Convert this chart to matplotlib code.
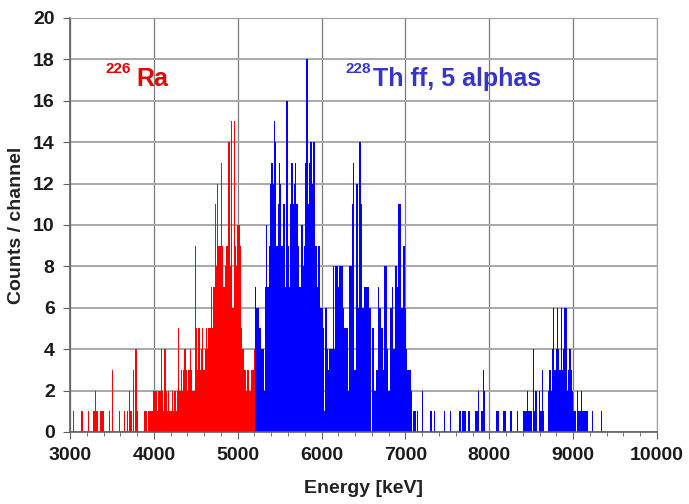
""" alpha spectrum: 226Ra source and 228Th fission fragment / 5 alphas """
import numpy as np
import matplotlib
matplotlib.use("Agg")
import matplotlib.pyplot as plt  # type: ignore
from matplotlib.ticker import MultipleLocator

plt.rcParams['font.family'] = ['Liberation Sans', 'DejaVu Sans']

# channel width in keV
chan_width = 15

# 226Ra counts per channel, starting at 3000 keV
ra_start = 3000
ra_counts = [
    0, 0, 1, 0, 0, 0, 0, 0, 0, 1, 0, 0, 0, 0, 1, 0, 0, 0, 1, 1,
    2, 1, 0, 0, 1, 1, 1, 0, 0, 0, 0, 1, 0, 3, 0, 0, 0, 0, 0, 1,
    0, 0, 0, 1, 0, 1, 0, 2, 1, 0, 3, 0, 4, 1, 0, 0, 0, 0, 0, 1,
    1, 0, 1, 1, 1, 1, 2, 2, 2, 1, 2, 2, 4, 2, 1, 4, 2, 1, 2, 1,
    1, 2, 1, 2, 1, 2, 5, 2, 3, 2, 3, 4, 3, 2, 3, 4, 3, 2, 2, 9,
    5, 3, 5, 3, 4, 5, 3, 4, 5, 4, 5, 5, 7, 5, 7, 11, 8, 12, 9, 9,
    13, 9, 7, 8, 9, 9, 14, 8, 15, 6, 15, 9, 8, 10, 10, 9, 5, 4, 3, 3,
    2, 3, 2, 2, 3, 3, 4,
]

# 228Th counts per channel, starting right after the Ra part
th_start = 5205
th_counts = [
    7, 6, 6, 5, 5, 4, 4, 2, 7, 10, 7, 9, 12, 13, 12, 15, 14, 9, 11, 13,
    12, 9, 11, 11, 7, 16, 9, 7, 11, 13, 11, 12, 13, 11, 9, 7, 7, 10, 8, 9,
    13, 18, 11, 13, 14, 12, 14, 14, 9, 7, 9, 9, 6, 6, 5, 1, 6, 4, 3, 4,
    4, 4, 8, 4, 8, 8, 7, 8, 8, 8, 6, 5, 5, 5, 2, 8, 8, 11, 13, 3,
    12, 12, 6, 14, 11, 6, 6, 7, 7, 7, 7, 6, 0, 5, 5, 2, 3, 3, 7, 6,
    5, 5, 3, 8, 8, 4, 2, 6, 6, 7, 4, 8, 8, 7, 11, 11, 6, 6, 9, 6,
    4, 3, 3, 3, 2, 0, 1, 1, 0, 1, 0, 0, 0, 2, 0, 0, 0, 0, 0, 1,
    1, 0, 1, 0, 0, 0, 0, 0, 0, 0, 1, 0, 0, 0, 0, 1, 0, 0, 0, 0,
    0, 0, 1, 1, 0, 1, 1, 1, 0, 1, 1, 0, 0, 0, 0, 1, 1, 2, 0, 0,
    1, 3, 2, 0, 0, 0, 0, 0, 0, 0, 0, 0, 1, 1, 0, 0, 0, 1, 1, 1,
    0, 0, 0, 1, 0, 0, 0, 0, 1, 0, 0, 0, 0, 1, 1, 1, 2, 1, 1, 1,
    0, 4, 1, 2, 0, 0, 2, 1, 3, 1, 0, 0, 0, 2, 3, 2, 4, 6, 3, 4,
    6, 4, 3, 6, 3, 4, 6, 6, 2, 3, 4, 3, 2, 1, 1, 0, 2, 1, 1, 2,
    1, 1, 1, 1, 1, 0, 0, 0, 1, 0, 0, 0, 0, 0, 0, 1, 0, 0, 0, 0,
]

ra_edges = ra_start + chan_width * np.arange(len(ra_counts) + 1)
th_edges = th_start + chan_width * np.arange(len(th_counts) + 1)

fig = plt.figure(figsize=(6.89, 5.04), dpi=100, facecolor="w")
ax = fig.add_axes([0.1016, 0.1429, 0.852, 0.8214])

ax.stairs(ra_counts, ra_edges, fill=True, color="#ff0000", lw=0)
ax.stairs(th_counts, th_edges, fill=True, color="#0000ff", lw=0)

ax.set_xlim(3000, 10000)
ax.set_ylim(0, 20)
ax.xaxis.set_major_locator(MultipleLocator(1000))
ax.xaxis.set_minor_locator(MultipleLocator(200))
ax.yaxis.set_major_locator(MultipleLocator(2))

ax.set_axisbelow(True)
ax.grid(axis="y", color="#a8a8a8", lw=1.4)
ax.grid(axis="x", color="#7a7a7a", lw=0.9)

for side in ["top", "right"]:
    ax.spines[side].set_color("#a0a0a0")
for side in ["left", "bottom"]:
    ax.spines[side].set_color("#606060")
    ax.spines[side].set_linewidth(1.2)

ax.tick_params(axis="both", which="major", direction="out", length=5,
               color="#606060", labelsize=14, labelcolor="#1a1a1a", pad=6)
ax.tick_params(axis="x", which="minor", direction="out", length=3, color="#606060")
for lab in ax.get_xticklabels() + ax.get_yticklabels():
    lab.set_fontweight("bold")

ax.set_xlabel("Energy [keV]", fontsize=14, fontweight="bold", color="#222222")
ax.set_ylabel("Counts / channel", fontsize=14, fontweight="bold", color="#222222")
ax.xaxis.set_label_coords(0.5, -0.115)
ax.yaxis.set_label_coords(-0.076, 0.5)

# isotope labels with superscript mass numbers
ax.text(3790, 16.7, "Ra", color="#e80000", fontsize=18, fontweight="bold", va="baseline")
ax.text(3720, 17.35, "226", color="#e80000", fontsize=11, fontweight="bold",
        va="baseline", ha="right")
ax.text(6610, 16.7, "Th ff, 5 alphas", color="#3535cc", fontsize=18,
        fontweight="bold", va="baseline")
ax.text(6590, 17.35, "228", color="#3535cc", fontsize=11, fontweight="bold",
        va="baseline", ha="right")

plt.savefig("out.png", dpi=100, facecolor="w")
